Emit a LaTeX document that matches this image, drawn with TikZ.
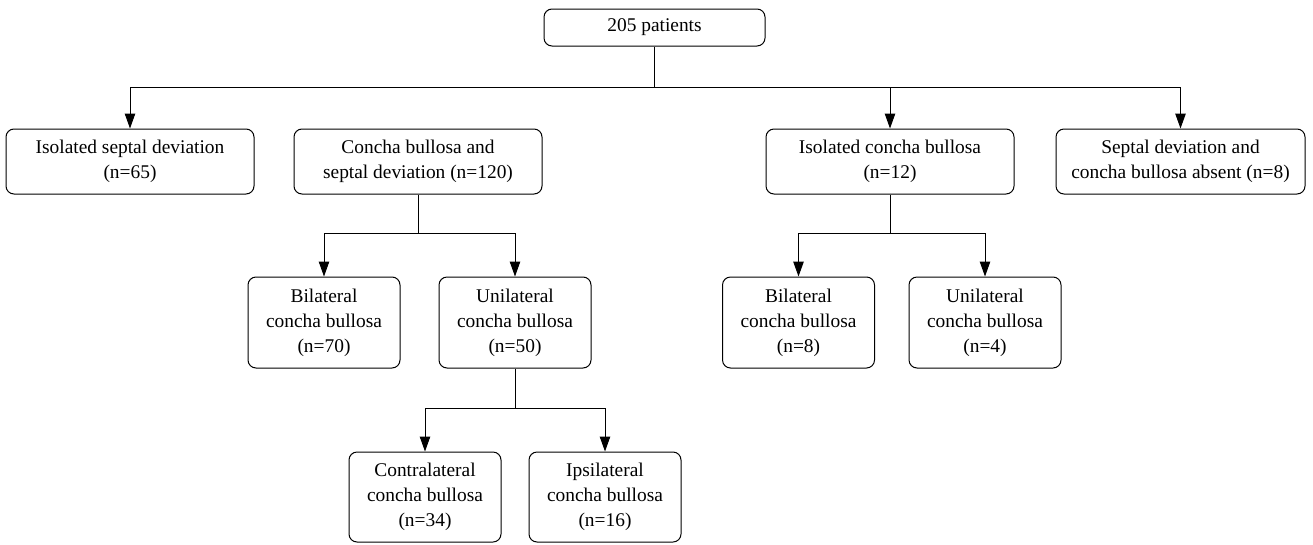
\documentclass[tikz,border=0pt]{standalone}
\usepackage{fontspec}
\setmainfont{Liberation Serif}
\usetikzlibrary{arrows.meta}
\begin{document}
\begin{tikzpicture}[x=1pt,y=-1pt,
  box/.style={draw,line width=1pt,rounded corners=8pt,align=center,inner sep=0pt,
    font=\fontsize{19.4}{25}\selectfont},
  wide/.style={box,minimum width=248pt,minimum height=65pt},
  narrow/.style={box,minimum width=152pt,minimum height=91pt},
  conn/.style={line width=1pt},
  arr/.style={line width=1pt,-{Triangle[length=15pt,width=10.5pt]}}]
\useasboundingbox (0,0) rectangle (1313,544);
% nodes
\node[box,minimum width=221pt,minimum height=37pt] (top) at (654.5,27.5) {205 patients};
\node[wide] (b1) at (130,161.5) {Isolated septal deviation\\(n=65)};
\node[wide] (b2) at (418,161.5) {Concha bullosa and\\septal deviation (n=120)};
\node[wide] (b3) at (890,161.5) {Isolated concha bullosa\\(n=12)};
\node[wide,minimum width=249pt] (b4) at (1180.5,161.5) {Septal deviation and\\concha bullosa absent (n=8)};
\node[narrow] (c1) at (324,322.5) {Bilateral\\concha bullosa\\(n=70)};
\node[narrow] (c2) at (515,322.5) {Unilateral\\concha bullosa\\(n=50)};
\node[narrow] (c3) at (798.5,322.5) {Bilateral\\concha bullosa\\(n=8)};
\node[narrow] (c4) at (985,322.5) {Unilateral\\concha bullosa\\(n=4)};
\node[narrow,minimum height=90pt] (d1) at (425,497) {Contralateral\\concha bullosa\\(n=34)};
\node[narrow,minimum height=90pt] (d2) at (605,497) {Ipsilateral\\concha bullosa\\(n=16)};
% junctions
\coordinate (j0) at (654.5,87);
\coordinate (j1) at (418,233);
\coordinate (j2) at (890,233);
\coordinate (j3) at (515,408);
% connectors
\draw[conn] (top.south) -- (j0);
\draw[arr] (j0) -| (b1.north);
\draw[arr] (j0) -| (b3.north);
\draw[arr] (j0) -| (b4.north);
\draw[conn] (b2.south) -- (j1);
\draw[arr] (j1) -| (c1.north);
\draw[arr] (j1) -| (c2.north);
\draw[conn] (b3.south) -- (j2);
\draw[arr] (j2) -| (c3.north);
\draw[arr] (j2) -| (c4.north);
\draw[conn] (c2.south) -- (j3);
\draw[arr] (j3) -| (d1.north);
\draw[arr] (j3) -| (d2.north);
\end{tikzpicture}
\end{document}
